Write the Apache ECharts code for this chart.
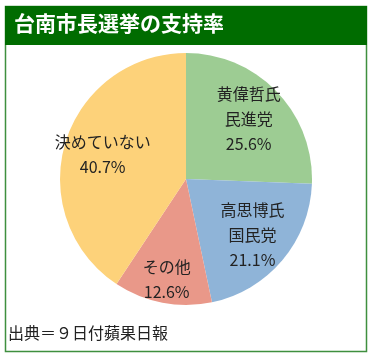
<!DOCTYPE html>
<html><head><meta charset="utf-8">
<script src="https://cdn.jsdelivr.net/npm/echarts@6/dist/echarts.min.js"></script>
<style>html,body{margin:0;padding:0;background:#fff}#c{width:373px;height:358px}</style>
</head><body><div id="c"></div>
<script>
const titleText = '台南市長選挙の支持率';
const sourceText = '出典＝９日付蘋果日報';
const categories = ['黄偉哲氏\n民進党', '高思博氏\n国民党', 'その他', '決めていない'];
const values = [25.6, 21.1, 12.6, 40.7];
const colors = ['#9dcc93', '#8fb4d8', '#e99889', '#fdd27a'];

const chart = echarts.init(document.getElementById('c'), null, {renderer: 'canvas'});
const font = '"Noto Sans CJK JP", "Noto Sans", sans-serif';
const pieData = categories.map((c, i) => ({name: c, value: values[i], itemStyle: {color: colors[i]}}));
const labelData = categories.map((c, i) => ({
  name: c, value: values[i],
  label: i === 2 ? {offset: [-3, 15]} : {}
}));
chart.setOption({
  animation: false,
  graphic: [
    {type: 'rect', shape: {x: 5.5, y: 6.5, width: 361, height: 345}, style: {fill: '#fff', stroke: '#3f8f3f', lineWidth: 1.5}, z: 0},
    {type: 'rect', shape: {x: 5, y: 6, width: 362, height: 39}, style: {fill: '#006c00'}, z: 1},
    {type: 'text', left: 14, top: 13, style: {text: titleText, fill: '#fff', font: 'bold 21px ' + font}, z: 2},
    {type: 'text', left: 8, top: 325, style: {text: sourceText, fill: '#222', font: '16px ' + font}, z: 2}
  ],
  series: [
    {
      type: 'pie', center: [186, 179], radius: [0, 126], startAngle: 90, clockwise: true,
      silent: true, label: {show: false}, labelLine: {show: false},
      itemStyle: {borderWidth: 0},
      data: pieData, z: 3
    },
    {
      type: 'pie', center: [186, 179], radius: [0, 168], startAngle: 90, clockwise: true,
      silent: true,
      itemStyle: {color: 'rgba(0,0,0,0)', borderWidth: 0},
      label: {show: true, position: 'inner', color: '#222', fontSize: 16, lineHeight: 25, fontFamily: font,
        formatter: p => p.name + '\n' + p.value.toFixed(1) + '%'},
      labelLine: {show: false},
      data: labelData, z: 4
    }
  ]
});
</script></body></html>
